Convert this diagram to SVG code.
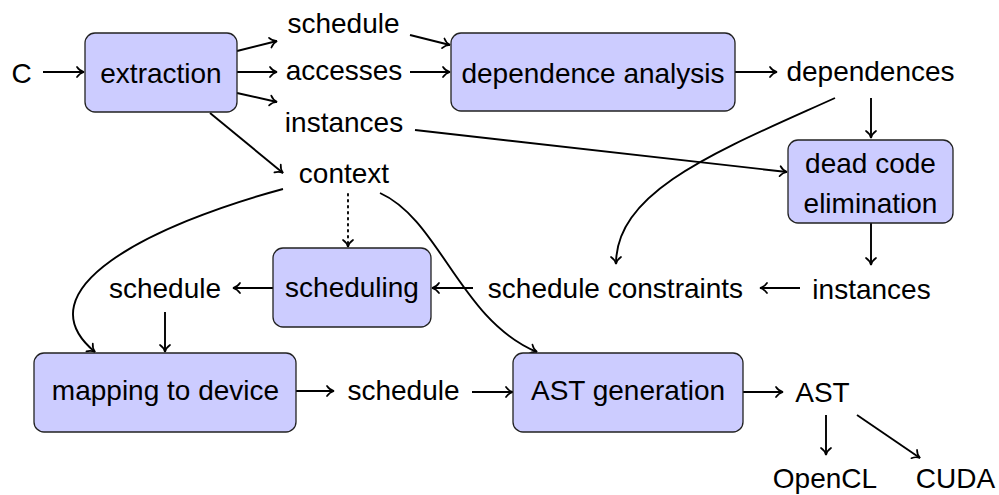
<svg xmlns="http://www.w3.org/2000/svg" width="999" height="495" viewBox="0 0 999 495">
  <style>
    text { font-family: "Liberation Sans", Arial, sans-serif; font-size: 28px; fill: #000; text-anchor: middle; }
    .box { fill: #ccccff; stroke: #222; stroke-width: 1.3; }
    .edge { fill: none; stroke: #000; stroke-width: 1.9; marker-end: url(#tip); }
    .dotted { stroke-dasharray: 1.6 4.4; stroke-linecap: round; }
  </style>
  <defs>
    <marker id="tip" markerUnits="userSpaceOnUse" viewBox="-9 -7 11 14" refX="0" refY="0" markerWidth="11" markerHeight="14" orient="auto" overflow="visible">
      <path d="M-7,-5 C-5,-2 -2,-0.5 0,0 C-2,0.5 -5,2 -7,5" fill="none" stroke="#000" stroke-width="1.7" stroke-linecap="round"/>
    </marker>
  </defs>

  <rect width="999" height="495" fill="#fff"/>

  <!-- connectors -->
  <g id="connectors">
    <line class="edge" x1="43" y1="72" x2="84" y2="72"/>
    <line class="edge" x1="237" y1="51" x2="277" y2="41"/>
    <line class="edge" x1="237" y1="72" x2="277" y2="72"/>
    <line class="edge" x1="237" y1="93" x2="277" y2="102"/>
    <line class="edge" x1="210" y1="113" x2="283" y2="173"/>
    <line class="edge" x1="410" y1="35" x2="450" y2="45"/>
    <line class="edge" x1="410" y1="72" x2="450" y2="72"/>
    <line class="edge" x1="415" y1="130" x2="787" y2="172"/>
    <line class="edge" x1="735" y1="72" x2="777" y2="72"/>
    <line class="edge" x1="871" y1="98" x2="871" y2="138"/>
    <path class="edge" d="M835,98 C720,150 616,190 616,264"/>
    <line class="edge" x1="871" y1="223" x2="871" y2="265"/>
    <line class="edge" x1="800" y1="288" x2="760" y2="288"/>
    <line class="edge" x1="473" y1="288" x2="432" y2="288"/>
    <line class="edge" x1="273" y1="288" x2="233" y2="288"/>
    <line class="edge" x1="165" y1="312" x2="165" y2="352"/>
    <line class="edge dotted" x1="348" y1="194" x2="348" y2="247"/>
    <path class="edge" d="M283,189 C150,225 20,290 95,352"/>
    <path class="edge" d="M380,193 C440,220 460,320 537,352"/>
    <line class="edge" x1="296" y1="391" x2="334" y2="391"/>
    <line class="edge" x1="472" y1="392" x2="513" y2="392"/>
    <line class="edge" x1="743" y1="392" x2="783" y2="392"/>
    <line class="edge" x1="826" y1="415" x2="826" y2="455"/>
    <line class="edge" x1="857" y1="415" x2="920" y2="458"/>
  </g>

  <!-- plain data nodes -->
  <g id="c"><text x="21.5" y="83">C</text></g>
  <g id="schedule-top"><text x="343.5" y="33">schedule</text></g>
  <g id="accesses"><text x="344" y="80">accesses</text></g>
  <g id="instances-top"><text x="344" y="132">instances</text></g>
  <g id="context"><text x="344" y="183">context</text></g>
  <g id="dependences"><text x="870.5" y="81">dependences</text></g>
  <g id="instances-live"><text x="871.5" y="299">instances</text></g>
  <g id="schedule-constraints"><text x="615.5" y="298">schedule constraints</text></g>
  <g id="schedule-left"><text x="165" y="298">schedule</text></g>
  <g id="schedule-mid"><text x="403.5" y="400">schedule</text></g>
  <g id="ast"><text x="822.5" y="402">AST</text></g>
  <g id="opencl"><text x="825" y="488">OpenCL</text></g>
  <g id="cuda"><text x="955.5" y="488">CUDA</text></g>

  <!-- processing steps -->
  <g id="extraction">
    <rect class="box" x="85" y="33" width="152" height="79" rx="10"/>
    <text x="161" y="83">extraction</text>
  </g>
  <g id="dependence-analysis">
    <rect class="box" x="451" y="33" width="284" height="78" rx="10"/>
    <text x="593" y="83">dependence analysis</text>
  </g>
  <g id="dead-code-elimination">
    <rect class="box" x="788" y="140" width="165" height="83" rx="10"/>
    <text x="870.5" y="173">dead code</text>
    <text x="870.5" y="213">elimination</text>
  </g>
  <g id="scheduling">
    <rect class="box" x="273" y="248" width="158" height="79" rx="10"/>
    <text x="352" y="297">scheduling</text>
  </g>
  <g id="mapping-to-device">
    <rect class="box" x="34" y="353" width="262" height="79" rx="10"/>
    <text x="165.5" y="400">mapping to device</text>
  </g>
  <g id="ast-generation">
    <rect class="box" x="513" y="353" width="230" height="79" rx="10"/>
    <text x="628" y="400">AST generation</text>
  </g>
</svg>
